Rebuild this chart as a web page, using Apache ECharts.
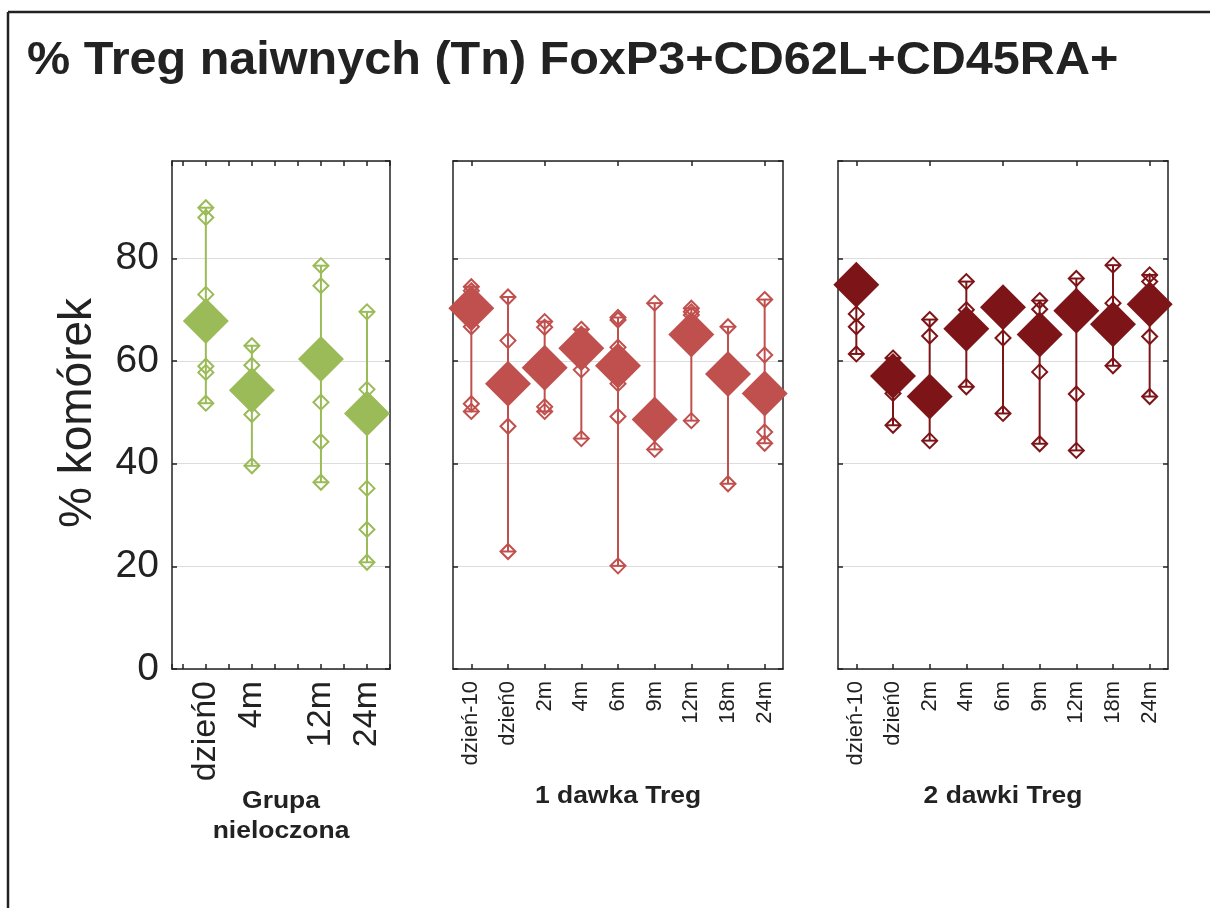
<!DOCTYPE html>
<html>
<head>
<meta charset="utf-8">
<title>% Treg naiwnych</title>
<script src="https://cdn.jsdelivr.net/npm/echarts@6/dist/echarts.min.js"></script>
<style>
	html, body { margin: 0; padding: 0; background: #fff; }
	#main { width: 1210px; height: 908px; }
</style>
</head>
<body>
<div id="main"></div>
<script>
// ---- dane ----
// Grupa nieloczona
const g1Cats = ['dzień0', '4m', '12m', '24m']
const g1Pos = [1, 3, 6, 8] // miejsce kategorii na osi (z przerwą między 4m a 12m)
const g1Mean = [67.8, 54.3, 60.4, 49.8]
const g1Pts = [
	[89.9, 88.0, 73.0, 59.0, 57.8, 51.8],
	[63.0, 59.2, 49.6, 39.6],
	[78.6, 74.7, 52.0, 44.3, 36.4],
	[69.6, 54.5, 35.2, 27.2, 20.8]
]

// 1 dawka Treg
const g2Cats = ['dzień-10', 'dzień0', '2m', '4m', '6m', '9m', '12m', '18m', '24m']
const g2Mean = [70.3, 55.6, 58.7, 62.5, 59.1, 48.6, 65.2, 57.5, 53.7]
const g2Pts = [
	[74.5, 73.7, 66.7, 51.7, 50.2],
	[72.5, 64.0, 47.3, 22.9],
	[67.7, 66.6, 51.1, 50.2],
	[66.2, 58.3, 44.9],
	[68.5, 68.0, 62.7, 55.6, 49.2, 20.1],
	[71.3, 42.8],
	[70.3, 69.6, 69.0, 48.4],
	[66.7, 36.1],
	[72.0, 61.2, 46.2, 44.0]
]

// 2 dawki Treg
const g3Cats = ['dzień-10', 'dzień0', '2m', '4m', '6m', '9m', '12m', '18m', '24m']
const g3Mean = [74.9, 57.1, 53.1, 66.3, 70.5, 65.2, 69.8, 67.2, 71.1]
const g3Pts = [
	[69.2, 66.7, 61.4],
	[60.6, 53.7, 47.5],
	[68.1, 64.9, 44.5],
	[75.5, 70.0, 55.0],
	[64.5, 49.8],
	[71.8, 70.1, 57.9, 43.9],
	[76.1, 53.6, 42.6],
	[78.7, 71.3, 59.1],
	[76.8, 75.5, 64.8, 53.1]
]

const yTicks = [0, 20, 40, 60, 80]
const titleText = '% Treg naiwnych (Tn) FoxP3+CD62L+CD45RA+'
const yName = '% komórek'

// ---- wygląd ----
const FONT = '"Liberation Sans", Arial, sans-serif'
const INK = '#222'
const TOP = 161
const HEIGHT = 508

const panels = [
	{ cats: g1Cats, pos: g1Pos, mean: g1Mean, pts: g1Pts, color: '#9BBB59', left: 172, width: 218, labelSize: 34, name: 'Grupa\nnieloczona', nameY: 817 },
	{ cats: g2Cats, mean: g2Mean, pts: g2Pts, color: '#C0504D', left: 453, width: 330, labelSize: 22, name: '1 dawka Treg', nameY: 797 },
	{ cats: g3Cats, mean: g3Mean, pts: g3Pts, color: '#7D1418', left: 838, width: 330, labelSize: 22, name: '2 dawki Treg', nameY: 797 }
]

const chart = echarts.init(document.getElementById('main'))

const grids = []
const xAxes = []
const yAxes = []
const series = []
const graphics = []

const tickStyle = { show: true, inside: true, length: 5, lineStyle: { color: INK, width: 1.5 } }
const lineStyle = { show: true, onZero: false, lineStyle: { color: INK, width: 1.5 } }

panels.forEach((p, i) => {
	grids.push({ left: p.left, top: TOP, width: p.width, height: HEIGHT })

	// oś X: pierwszy panel ma oś liczbową (nierówne odstępy), pozostałe kategorie
	const xBase = p.pos
		? {
			type: 'value', min: -0.47, max: 9, minInterval: 1, maxInterval: 1,
			splitLine: { show: false }
		}
		: { type: 'category', data: p.cats, boundaryGap: true }
	const labelOf = (v) => {
		const k = p.pos.indexOf(v)
		return k >= 0 ? p.cats[k] : ''
	}
	xAxes.push(Object.assign({}, xBase, {
		gridIndex: i, position: 'bottom',
		axisLine: lineStyle,
		axisTick: Object.assign({ alignWithLabel: true }, tickStyle),
		axisLabel: {
			rotate: 90, margin: 12, color: INK, fontFamily: FONT, fontSize: p.labelSize,
			interval: 0,
			formatter: p.pos ? labelOf : (v) => v
		}
	}))
	xAxes.push(Object.assign({}, xBase, {
		gridIndex: i, position: 'top',
		axisLine: lineStyle,
		axisTick: Object.assign({ alignWithLabel: true }, tickStyle),
		axisLabel: { show: false }
	}))

	const yBase = { type: 'value', min: 0, max: 99, interval: 20, gridIndex: i, axisLine: lineStyle, axisTick: tickStyle }
	yAxes.push(Object.assign({}, yBase, {
		position: 'left',
		splitLine: { show: true, lineStyle: { color: '#dcdcdc', width: 1 } },
		axisLabel: {
			show: i === 0, showMaxLabel: false, margin: 13, color: INK, fontFamily: FONT, fontSize: 39,
			formatter: (v) => (yTicks.indexOf(v) >= 0 ? String(v) : '')
		}
	}))
	yAxes.push(Object.assign({}, yBase, {
		position: 'right',
		splitLine: { show: false },
		axisLabel: { show: false }
	}))

	const xOf = (k) => (p.pos ? p.pos[k] : k)
	const whisk = p.pts.map((arr, k) => [xOf(k), Math.min(...arr, p.mean[k]), Math.max(...arr, p.mean[k])])
	const pts = []
	p.pts.forEach((arr, k) => arr.forEach((v) => pts.push([xOf(k), v])))
	const means = p.mean.map((v, k) => [xOf(k), v])

	// wąsy: linia od min do max z poziomymi kreskami na końcach
	series.push({
		type: 'custom', xAxisIndex: i * 2, yAxisIndex: i * 2,
		data: whisk, encode: { x: 0, y: [1, 2] }, silent: true, z: 2,
		renderItem: (params, api) => {
			const hi = api.coord([api.value(0), api.value(2)])
			const lo = api.coord([api.value(0), api.value(1)])
			const st = { stroke: p.color, lineWidth: 2 }
			return {
				type: 'group',
				children: [
					{ type: 'line', shape: { x1: hi[0], y1: hi[1], x2: lo[0], y2: lo[1] }, style: st },
					{ type: 'line', shape: { x1: hi[0] - 7, y1: hi[1], x2: hi[0] + 7, y2: hi[1] }, style: st },
					{ type: 'line', shape: { x1: lo[0] - 7, y1: lo[1], x2: lo[0] + 7, y2: lo[1] }, style: st }
				]
			}
		}
	})
	// pojedyncze pomiary
	series.push({
		type: 'scatter', xAxisIndex: i * 2, yAxisIndex: i * 2, data: pts, z: 3,
		symbol: 'diamond', symbolSize: 15, silent: true,
		itemStyle: { color: 'rgba(0,0,0,0)', borderColor: p.color, borderWidth: 2, opacity: 1 }
	})
	// średnie
	series.push({
		type: 'scatter', xAxisIndex: i * 2, yAxisIndex: i * 2, data: means, z: 4,
		symbol: 'diamond', symbolSize: 46, silent: true,
		itemStyle: { color: p.color, opacity: 1 }
	})

	// podpis grupy pod panelem
	graphics.push({
		type: 'text', x: p.left + p.width / 2, y: p.nameY, scaleX: 1.15,
		style: {
			text: p.name, align: 'center', verticalAlign: 'middle',
			font: 'bold 23px ' + FONT, fill: INK, lineHeight: 30
		}
	})
})

// ramka rysunku + tytuł + nazwa osi Y
graphics.push(
	{ type: 'line', shape: { x1: 8, y1: 12, x2: 1210, y2: 12 }, style: { stroke: INK, lineWidth: 2.5 } },
	{ type: 'line', shape: { x1: 8, y1: 12, x2: 8, y2: 908 }, style: { stroke: INK, lineWidth: 2.5 } },
	{
		type: 'text', x: 27, y: 61, scaleX: 1.033,
		style: { text: titleText, align: 'left', verticalAlign: 'middle', font: 'bold 47px ' + FONT, fill: INK }
	},
	{
		type: 'text', x: 78, y: 413, rotation: Math.PI / 2,
		style: { text: yName, align: 'center', verticalAlign: 'middle', font: '46px ' + FONT, fill: INK }
	}
)

chart.setOption({
	animation: false,
	grid: grids,
	xAxis: xAxes,
	yAxis: yAxes,
	series: series,
	graphic: graphics
})
</script>
</body>
</html>
